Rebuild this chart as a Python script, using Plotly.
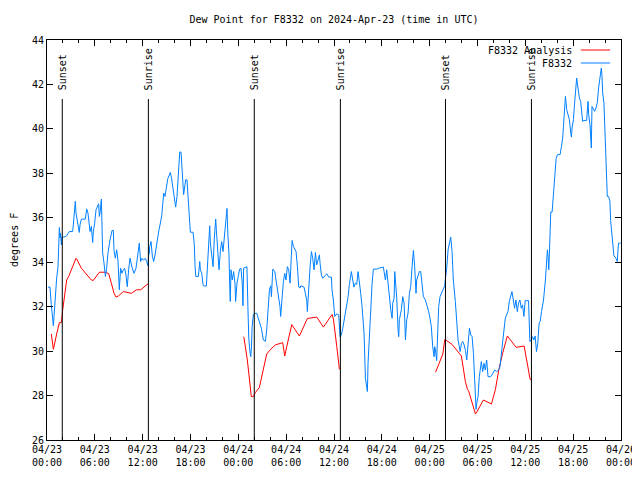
import pandas as pd
import plotly.graph_objects as go

# ---------------- data (hours after 2024-04-23 00:00 UTC, degrees F) ----------------
obs_hours = [0.13,0.38,0.54,0.71,0.80,0.88,1.05,1.21,1.38,1.46,1.55,1.63,1.71,1.80,1.88,2.13,2.47,2.80,3.22,3.30,
             3.47,3.55,3.64,3.89,4.05,4.14,4.31,4.81,4.98,5.14,5.31,5.40,5.56,5.73,5.81,5.98,6.15,6.31,6.48,6.56,
             6.65,6.82,6.90,6.98,7.15,7.32,7.48,7.65,7.90,8.16,8.32,8.40,8.57,8.74,8.90,9.07,9.23,9.40,9.57,9.74,
             9.90,10.07,10.24,10.41,10.66,10.91,11.16,11.41,11.58,11.74,11.91,12.08,12.34,12.50,12.67,12.75,12.84,
             12.88,13.05,13.22,13.38,13.55,13.72,13.89,14.05,14.22,14.39,14.55,14.64,14.80,14.97,15.14,15.30,15.47,
             15.64,15.81,15.97,16.14,16.31,16.48,16.65,16.81,16.90,17.06,17.14,17.31,17.40,17.56,17.73,17.90,17.98,
             18.32,18.48,18.57,18.66,18.99,19.16,19.24,19.41,19.57,19.66,19.99,20.08,20.24,20.33,20.41,20.49,20.66,
             20.83,20.99,21.08,21.16,21.24,21.41,21.58,21.74,21.91,22.08,22.24,22.33,22.49,22.58,22.66,22.83,22.91,
             22.99,23.08,23.24,23.41,23.58,23.66,23.83,23.99,24.16,24.33,24.49,24.58,24.66,24.99,25.08,25.20,25.31,
             25.48,25.56,25.65,25.73,25.88,26.06,26.31,26.47,26.72,26.89,27.14,27.39,27.56,27.73,27.90,28.06,28.15,
             28.32,28.57,28.73,28.90,29.06,29.23,29.31,29.48,29.65,29.82,29.98,30.15,30.32,30.49,30.57,30.74,30.91,
             31.07,31.24,31.41,31.58,31.74,31.83,32.24,32.41,32.58,32.66,32.83,33.00,33.17,33.33,33.50,33.67,33.83,
             34.00,34.17,34.25,34.42,34.58,34.83,35.09,35.34,35.67,35.75,35.92,36.09,36.34,36.51,36.59,36.76,36.92,
             37.10,37.35,37.60,37.77,37.93,38.10,38.18,38.35,38.51,38.68,38.85,39.02,39.18,39.35,39.52,39.60,39.77,
             39.94,40.10,40.19,40.27,40.44,40.61,40.78,40.94,41.36,41.61,42.03,42.20,42.28,42.45,42.61,42.78,42.95,
             43.12,43.29,43.37,43.54,43.62,43.70,43.87,44.04,44.12,44.20,44.45,44.62,44.79,44.87,44.96,45.12,45.29,
             45.46,45.62,45.79,45.96,46.12,46.29,46.37,46.54,46.71,46.88,47.04,47.21,47.46,47.71,47.88,48.04,48.21,
             48.38,48.55,48.63,48.72,48.88,48.97,49.13,49.30,49.47,49.72,49.89,49.97,50.14,50.31,50.47,50.64,50.81,
             50.97,51.22,51.39,51.56,51.72,51.82,51.99,52.15,52.32,52.49,52.65,52.82,52.99,53.15,53.32,53.49,53.65,
             53.82,53.90,54.07,54.23,54.40,54.48,54.65,54.82,54.98,55.15,55.32,55.65,55.82,56.15,56.40,56.65,56.82,
             56.98,57.15,57.32,57.49,57.65,57.82,57.99,58.15,58.32,58.49,58.65,58.82,58.99,59.15,59.32,59.49,59.65,
             59.82,59.98,60.40,60.49,60.57,60.74,60.90,61.07,61.23,61.40,61.56,61.73,61.86,62.03,62.28,62.52,62.68,
             62.77,62.85,62.94,63.02,63.10,63.19,63.36,63.44,63.61,63.77,63.86,64.03,64.36,64.53,64.69,64.78,64.94,
             65.03,65.19,65.36,65.53,65.69,65.78,65.86,66.03,66.19,66.36,66.44,66.61,66.78,66.94,67.11,67.19,67.36,
             67.69,67.86,67.94,68.11,68.19,68.28,68.36,68.53,68.69,68.86,69.03,69.19,69.36,69.45,69.53,69.61,69.70,
             69.86,70.03,70.20,70.28,70.45,70.61,70.70,70.86,71.03,71.11,71.36,71.53,71.61,71.69,71.95]
obs_vals = [32.88,32.88,32.08,31.56,31.14,31.56,32.53,33.28,33.78,34.71,35.56,35.10,35.30,34.78,35.13,35.13,35.19,35.38,35.38,35.68,
            36.36,36.74,36.21,35.76,35.34,35.68,35.94,35.94,36.40,36.21,35.61,35.38,35.61,34.89,35.38,35.76,36.36,36.51,36.63,36.06,
            36.21,36.84,35.76,34.41,33.96,33.36,33.73,34.41,35.00,35.43,35.43,34.56,34.18,34.56,34.10,32.76,33.73,33.50,33.66,33.73,
            33.43,32.90,33.66,34.18,33.78,33.50,33.73,34.33,34.86,34.03,34.18,34.10,34.17,34.03,33.84,34.33,34.38,
            34.71,34.93,34.26,34.03,34.33,34.78,35.19,35.46,35.76,36.09,36.74,37.11,36.96,37.41,37.74,37.89,38.04,
            37.74,37.26,36.88,36.48,36.96,38.09,38.96,38.96,38.46,37.56,37.04,37.49,37.71,37.71,36.51,35.68,35.35,
            35.35,34.78,33.84,33.36,33.36,34.03,33.66,33.50,33.00,32.93,32.93,33.50,34.48,35.23,35.64,34.86,34.18,
            33.80,35.09,35.61,35.94,35.46,34.71,33.66,34.48,34.93,34.48,35.16,35.46,36.06,36.42,35.46,34.33,33.06,
            32.23,33.66,33.20,33.58,33.06,32.23,33.06,33.36,33.69,33.73,33.06,32.04,33.73,33.78,33.80,32.00,30.58,
            29.90,29.75,30.20,31.10,31.63,31.70,31.70,31.48,31.18,31.03,30.50,30.44,30.95,31.70,32.76,32.94,32.45,
            33.69,33.58,33.20,32.76,32.53,32.00,31.56,32.45,33.13,33.50,33.20,33.80,33.66,33.06,33.80,34.98,34.71,
            34.56,34.48,33.80,32.88,32.84,32.94,32.88,32.60,32.30,31.78,33.13,33.80,34.48,34.18,33.66,34.44,33.88,
            34.10,34.33,33.96,33.43,33.28,33.36,33.48,33.33,33.33,32.76,32.30,31.56,31.68,31.63,31.63,30.65,30.73,
            31.03,31.56,32.00,32.45,33.00,33.33,33.58,33.20,32.88,33.06,33.00,33.58,33.20,32.60,32.00,31.56,30.80,
            28.78,28.40,28.18,29.45,30.80,32.00,33.06,33.69,33.69,33.73,33.78,33.78,33.58,33.20,33.66,32.94,32.30,
            31.86,31.48,32.16,32.38,33.58,33.20,32.38,30.95,30.65,31.41,31.86,32.45,32.16,31.48,30.50,31.41,31.71,
            32.60,32.90,33.80,34.53,33.80,32.60,33.20,33.43,33.58,33.58,33.06,32.45,32.30,32.00,31.78,31.48,31.10,
            30.20,29.75,30.20,30.05,29.57,30.80,32.00,32.45,32.60,32.83,32.94,33.24,33.73,34.56,34.86,35.13,34.48,
            33.20,32.23,31.33,30.50,30.20,29.98,30.35,30.43,30.28,30.03,29.60,30.35,31.03,30.73,30.65,29.90,28.25,
            27.38,27.65,27.95,28.85,29.23,29.53,29.08,29.45,29.15,29.60,28.85,28.85,28.93,29.15,29.08,29.15,29.30,
            29.75,30.43,30.95,31.48,31.63,31.78,32.23,32.53,32.68,32.30,31.93,32.30,31.78,32.16,32.30,31.93,32.08,
            31.56,32.27,32.27,31.26,30.43,30.50,30.65,30.50,30.68,29.98,30.35,31.26,31.33,31.78,32.30,33.20,34.10,
            34.56,34.26,33.66,34.41,35.61,36.26,36.26,36.66,37.56,38.24,38.66,38.84,38.84,39.21,39.59,40.11,41.05,
            41.46,40.86,40.64,40.41,39.84,39.63,40.04,40.41,41.20,41.91,42.29,41.84,41.39,41.24,40.79,40.34,40.38,
            40.38,41.24,40.64,40.19,39.51,39.14,41.01,40.86,40.79,40.94,41.19,41.84,42.37,42.59,42.74,42.44,41.62,
            41.17,39.36,37.94,36.96,36.96,36.74,35.88,35.31,34.56,34.29,34.18,34.03,34.48,34.86,34.86]

ana_hours = [0.54,0.80,1.21,1.55,1.80,1.97,2.47,2.72,3.64,3.72,4.31,4.56,4.98,5.56,5.81,6.23,6.57,7.32,7.74,8.07,
             8.41,8.66,8.99,9.58,10.08,10.58,11.25,11.75,12.67,
             18.0,
             24.63,24.71,25.13,25.38,25.63,25.88,26.13,26.64,27.56,28.06,28.65,29.57,29.82,30.07,30.70,31.66,32.66,
             33.84,34.67,35.76,35.93,36.35,36.51,36.68,
             42.0,
             48.72,48.80,49.65,49.90,50.82,51.73,51.98,52.48,52.74,52.90,53.74,53.90,54.74,55.75,56.25,56.67,57.17,
             57.75,58.84,59.85,60.19,60.60,60.85]
ana_vals = [30.77,30.08,30.77,31.28,31.28,31.86,33.20,33.36,34.18,34.15,33.73,33.63,33.48,33.20,33.18,33.36,33.55,33.55,33.48,33.06,
            32.60,32.43,32.49,32.68,32.64,32.60,32.76,32.76,33.03,
            None,
            30.65,30.60,29.60,28.88,27.95,27.95,28.13,28.37,29.87,30.08,30.28,30.38,29.78,30.20,31.19,30.68,31.47,
            31.53,31.08,31.65,31.44,30.20,29.60,29.18,
            None,
            29.05,29.10,29.87,30.53,30.30,29.93,29.78,28.63,28.28,28.20,27.17,27.25,27.80,27.62,28.28,29.15,29.93,
            30.68,30.17,30.23,29.51,28.73,28.70]

sun_labels = ["Sunset", "Sunrise", "Sunset", "Sunrise", "Sunset", "Sunrise"]
sun_times = ["2024-04-23 01:55", "2024-04-23 12:43", "2024-04-24 02:00",
             "2024-04-24 12:48", "2024-04-25 01:59", "2024-04-25 12:46"]

series_names = ["F8332 Analysis", "F8332"]
series_colors = ["#ff0000", "#0080ff"]

base = pd.Timestamp("2024-04-23 00:00")
obs_t = base + pd.to_timedelta(obs_hours, unit="h")
ana_t = base + pd.to_timedelta(ana_hours, unit="h")

FONT = "DejaVu Sans Mono"

fig = go.Figure()
fig.add_trace(go.Scatter(x=ana_t, y=ana_vals, mode="lines", name=series_names[0],
                         line=dict(color=series_colors[0], width=1), connectgaps=False))
fig.add_trace(go.Scatter(x=obs_t, y=obs_vals, mode="lines", name=series_names[1],
                         line=dict(color=series_colors[1], width=1)))

# sunrise / sunset markers
for lab, t in zip(sun_labels, sun_times):
    fig.add_shape(type="line", xref="x", yref="paper", x0=t, x1=t, y0=0, y1=0.8525,
                  line=dict(color="black", width=1))
    fig.add_annotation(x=t, xref="x", y=0.87, yref="paper", text=lab, textangle=-90,
                       showarrow=False, xanchor="center", yanchor="bottom",
                       font=dict(family=FONT, size=10, color="black"))

# gnuplot-style legend (text then line sample)
leg_y = [0.975, 0.9425]
for name, col, yy in zip(series_names, series_colors, leg_y):
    fig.add_annotation(x=0.918, xref="paper", y=yy, yref="paper", text=name, showarrow=False,
                       xanchor="right", yanchor="middle", font=dict(family=FONT, size=10, color="black"))
    fig.add_shape(type="line", xref="paper", yref="paper", x0=0.930, x1=0.981, y0=yy, y1=yy,
                  line=dict(color=col, width=1))

# y-axis label
fig.add_annotation(x=-0.0575, xref="paper", y=0.5, yref="paper", text="degrees F", textangle=-90,
                   showarrow=False, xanchor="center", yanchor="middle",
                   font=dict(family=FONT, size=10, color="black"))

# the page body adds an 8px margin, so the figure is 632x472 and sits at (8, 8)
fig.update_layout(
    width=632, height=472,
    margin=dict(l=39, r=19, t=32, b=40, autoexpand=False),
    paper_bgcolor="white", plot_bgcolor="white",
    showlegend=False,
    title=dict(text="Dew Point for F8332 on 2024-Apr-23 (time in UTC)", x=0.5, xref="paper",
               xanchor="center", y=1 - 11 / 472, yref="container", yanchor="middle",
               font=dict(family=FONT, size=10, color="black")),
    font=dict(family=FONT, size=10, color="black"),
)
fig.update_xaxes(
    type="date", range=["2024-04-23 00:00", "2024-04-26 00:00"], automargin=False,
    tick0="2024-04-23 00:00", dtick=6 * 3600000, tickformat="%m/%d<br>%H:%M",
    ticks="inside", ticklen=6, tickcolor="black", showgrid=False, zeroline=False,
    showline=True, linecolor="black", linewidth=1, mirror="ticks",
    minor=dict(dtick=2 * 3600000, tick0="2024-04-23 00:00", ticks="inside", ticklen=3, tickcolor="black", showgrid=False),
    tickfont=dict(family=FONT, size=10, color="black"),
)
fig.update_yaxes(
    range=[26, 44], tick0=26, dtick=2, automargin=False,
    ticks="inside", ticklen=6, tickcolor="black", showgrid=False, zeroline=False,
    showline=True, linecolor="black", linewidth=1, mirror="ticks",
    tickfont=dict(family=FONT, size=10, color="black"),
)

fig.write_html("out.html")
